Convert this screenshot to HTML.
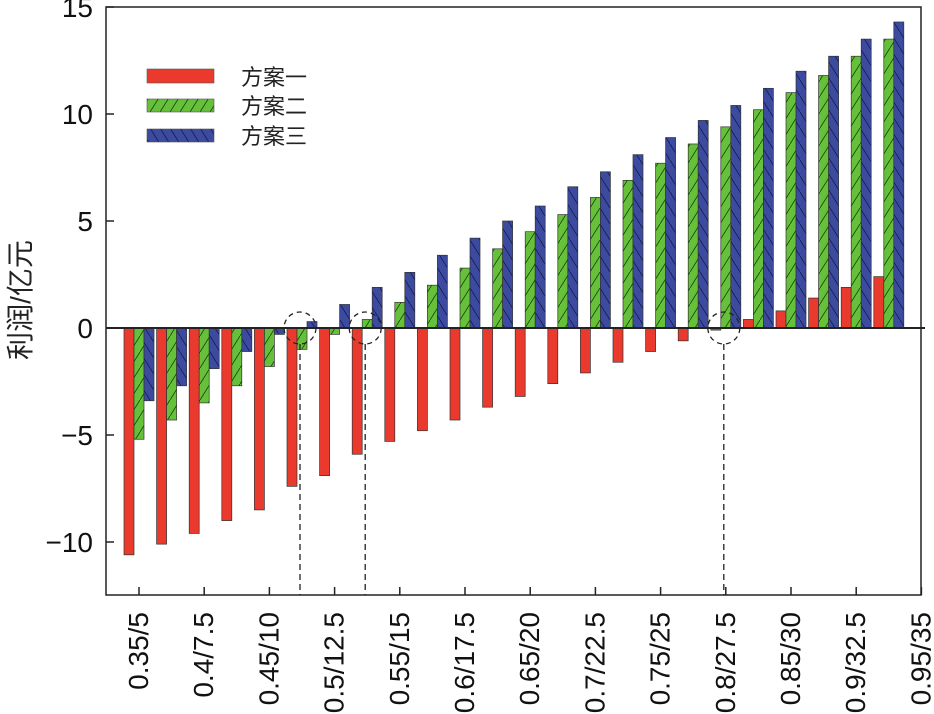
<!DOCTYPE html>
<html><head><meta charset="utf-8">
<style>
html,body{margin:0;padding:0;background:#fff;}
svg{display:block;font-family:"Liberation Sans","Noto Sans CJK SC",sans-serif;}
</style></head>
<body>
<svg id="chart" width="934" height="714" viewBox="0 0 934 714">
<defs>
<pattern id="hatchG" patternUnits="userSpaceOnUse" width="10" height="16">
<rect width="10" height="16" fill="#66c13a"/>
<path d="M0,16 L10,0" stroke="#1d3a10" stroke-width="0.8"/>
</pattern>
<pattern id="hatchB" patternUnits="userSpaceOnUse" width="10" height="16">
<rect width="10" height="16" fill="#3c4aa0"/>
<path d="M0,0 L10,16" stroke="#121a4a" stroke-width="0.8"/>
</pattern>
</defs>
<g id="bars"></g>
<g id="axes"></g>
<g id="legend">
<rect x="147" y="69" width="67" height="14" fill="#ea3a2e" stroke="#555" stroke-width="0.6"/>
<text x="241" y="85" font-size="22" fill="#222">方案一</text>
<rect x="147" y="99" width="67" height="13" fill="url(#hatchG)" stroke="#555" stroke-width="0.6"/>
<text x="241" y="114" font-size="22" fill="#222">方案二</text>
<rect x="147" y="129" width="67" height="13" fill="url(#hatchB)" stroke="#555" stroke-width="0.6"/>
<text x="241" y="144" font-size="22" fill="#222">方案三</text>
</g>
<text transform="translate(30,300) rotate(-90)" text-anchor="middle" font-size="28" fill="#222">利润/亿元</text>
</svg>
<script>
const tickLabels = ["0.35/5","0.4/7.5","0.45/10","0.5/12.5","0.55/15","0.6/17.5","0.65/20","0.7/22.5","0.75/25","0.8/27.5","0.85/30","0.9/32.5","0.95/35"];
const plan1 = [-10.6,-10.1,-9.6,-9.0,-8.5,-7.4,-6.9,-5.9,-5.3,-4.8,-4.3,-3.7,-3.2,-2.6,-2.1,-1.6,-1.1,-0.6,-0.1,0.4,0.8,1.4,1.9,2.4];
const plan2 = [-5.2,-4.3,-3.5,-2.7,-1.8,-1.0,-0.3,0.4,1.2,2.0,2.8,3.7,4.5,5.3,6.1,6.9,7.7,8.6,9.4,10.2,11.0,11.8,12.7,13.5];
const plan3 = [-3.4,-2.7,-1.9,-1.1,-0.3,0.3,1.1,1.9,2.6,3.4,4.2,5.0,5.7,6.6,7.3,8.1,8.9,9.7,10.4,11.2,12.0,12.7,13.5,14.3];
const yTicks = [15,10,5,0,-5,-10];
const markedGroups = [5,7,18];

const NS="http://www.w3.org/2000/svg";
const L=106,R=921,T=7,B=595;
function yS(v){return 328-v*21.4;}
function xS(i){return 139+i*32.6;}
function mk(tag,attrs,parent){const e=document.createElementNS(NS,tag);for(const k in attrs)e.setAttribute(k,attrs[k]);parent.appendChild(e);return e;}
const bars=document.getElementById('bars'),axes=document.getElementById('axes');
const series=[[plan1,'#ea3a2e','plan1'],[plan2,'url(#hatchG)','plan2'],[plan3,'url(#hatchB)','plan3']];
series.forEach((s,si)=>{
  s[0].forEach((v,i)=>{
    const x=xS(i)-15+si*10;
    const y0=yS(0),y1=yS(v);
    const r=mk('rect',{x:x,y:Math.min(y0,y1),width:10,height:Math.abs(y1-y0),fill:s[1],stroke:'#333','stroke-width':0.7},bars);
    
    
  });
});
const fr=mk('rect',{x:L,y:T,width:R-L,height:B-T,fill:'none',stroke:'#222','stroke-width':1.5},axes);


const zl=mk('line',{x1:L,x2:R+4,y1:yS(0),y2:yS(0),stroke:'#222','stroke-width':2},axes);


yTicks.forEach(v=>{
  const t=mk('line',{x1:L,x2:L+8,y1:yS(v),y2:yS(v),stroke:'#222','stroke-width':1.5},axes);
  
  
  const tx=mk('text',{x:93,y:yS(v)+10,'text-anchor':'end','font-size':28,fill:'#111'},axes);
  tx.textContent=v<0?'\u2212'+Math.abs(v):String(v);
  
  
});
tickLabels.forEach((lab,k)=>{
  const x=xS(k*2);
  const t=mk('line',{x1:x,x2:x,y1:B,y2:B-8,stroke:'#222','stroke-width':1.5},axes);
  
  
  const tx=mk('text',{transform:'translate('+(x+9)+',612) rotate(-90)','text-anchor':'end','font-size':28,fill:'#111'},axes);
  tx.textContent=lab;
  
  
});
markedGroups.forEach(g=>{
  const x=xS(g)-2;
  const c=mk('circle',{cx:x,cy:yS(0),r:16,fill:'none',stroke:'#222','stroke-width':1.3,'stroke-dasharray':'5,4'},axes);
  
  
  const l=mk('line',{x1:x,x2:x,y1:yS(0)+16,y2:B,stroke:'#222','stroke-width':1.3,'stroke-dasharray':'6,4'},axes);
  
  
});
</script>
</body></html>
